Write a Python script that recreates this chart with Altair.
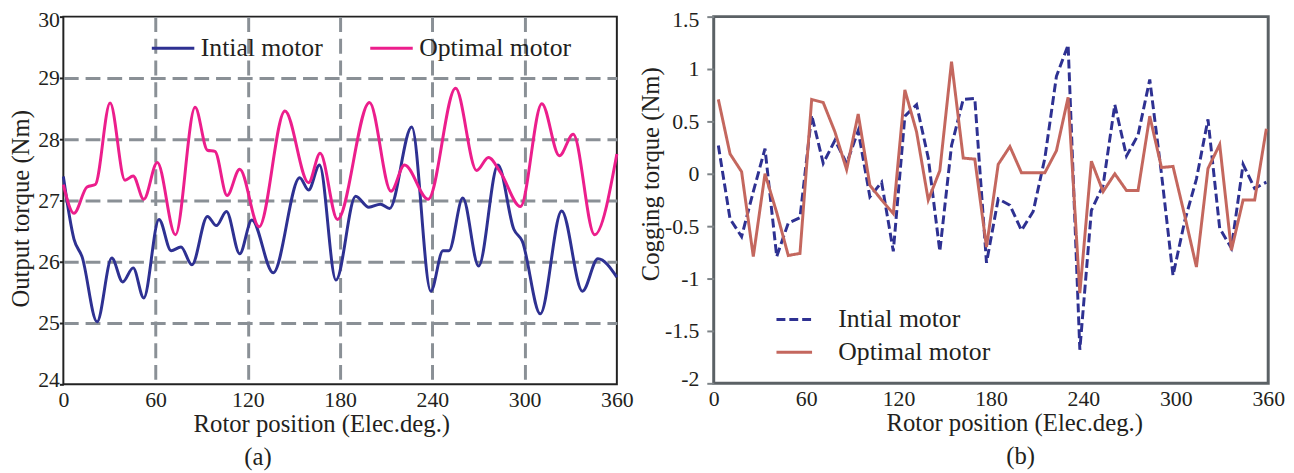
import altair as alt
import pandas as pd

FONT = "Liberation Serif"
TXT = "#231f20"

# ---- panel (a): output torque ----
deg_a_init = [0, 6.9, 12.2, 21.9, 31.5, 38.6, 45.4, 52.3, 62.2, 70.1, 76.5, 83.6, 93.7, 99.5,
              106.1, 114.7, 122.6, 136.5, 153.7, 159.5, 166.6, 177.3, 190.1, 198.7, 206.2,
              212.2, 226.6, 239.0, 246.9, 250.8, 259.8, 270.1, 282.7, 293.0, 298.4, 310.2,
              324.1, 337.6, 347.7, 360]
torque_init = [27.39, 26.37, 26.08, 25.02, 26.06, 25.67, 25.90, 25.41, 26.69, 26.18, 26.24,
               25.95, 26.74, 26.59, 26.82, 26.13, 26.68, 25.82, 27.37, 27.17, 27.58, 25.70,
               27.07, 26.89, 26.94, 26.87, 28.20, 25.52, 26.18, 26.18, 27.04, 25.93, 27.58,
               26.53, 26.34, 25.15, 26.83, 25.52, 26.05, 25.75]
deg_a_opt = [0, 6.9, 15.4, 20.8, 30.4, 40.1, 45.4, 52.3, 61.1, 72.9, 85.7, 93.7, 98.6, 106.5,
             114.7, 127.3, 144.1, 159.5, 167.0, 178.3, 199.1, 213.1, 221.9, 237.3, 255.1,
             268.8, 276.5, 284.5, 297.3, 311.2, 322.6, 331.6, 345.5, 360]
torque_opt = [27.26, 26.79, 27.22, 27.26, 28.59, 27.33, 27.40, 27.02, 27.62, 26.44, 28.52,
              27.82, 27.80, 27.08, 27.51, 26.57, 28.46, 27.29, 27.77, 26.69, 28.60, 27.15,
              27.58, 27.02, 28.83, 27.49, 27.70, 27.45, 26.90, 28.58, 27.73, 28.08, 26.44,
              27.76]

# ---- panel (b): cogging torque ----
deg_b = [3.0, 10.6, 18.1, 25.7, 33.3, 40.9, 48.4, 56.0, 63.6, 71.1, 78.7, 86.3, 93.8, 101.4,
         109.0, 116.6, 124.1, 131.7, 139.3, 146.8, 154.4, 162.0, 169.5, 177.1, 184.7, 192.3,
         199.8, 207.4, 215.0, 222.5, 230.1, 237.7, 245.2, 252.8, 260.4, 268.0, 275.5, 283.1,
         290.7, 298.2, 305.8, 313.4, 320.9, 328.5, 336.1, 343.7, 351.2, 358.8]
cog_init = [0.27, -0.43, -0.60, -0.17, 0.24, -0.79, -0.47, -0.42, 0.56, 0.10, 0.32, 0.10,
            0.41, -0.22, -0.08, -0.74, 0.55, 0.66, 0.15, -0.74, 0.27, 0.71, 0.72, -0.85,
            -0.24, -0.30, -0.54, -0.36, 0.15, 0.93, 1.23, -1.68, -0.35, -0.11, 0.66, 0.17,
            0.37, 0.90, 0.00, -0.97, -0.45, -0.05, 0.52, -0.52, -0.71, 0.09, -0.14, -0.08]
cog_opt = [0.71, 0.19, 0.02, -0.79, 0.00, -0.37, -0.78, -0.76, 0.71, 0.68, 0.40, 0.04,
           0.57, -0.11, -0.25, -0.38, 0.80, 0.40, -0.25, 0.03, 1.07, 0.15, 0.14, -0.70,
           0.09, 0.26, 0.01, 0.01, 0.01, 0.22, 0.73, -1.14, 0.12, -0.17, 0.00, -0.16,
           -0.16, 0.55, 0.06, 0.07, -0.40, -0.89, 0.05, 0.28, -0.73, -0.25, -0.25, 0.43]

series = ["Intial motor", "Optimal motor"]
x_ticks = [0, 60, 120, 180, 240, 300, 360]

dfa = pd.concat([
    pd.DataFrame({"x": deg_a_init, "y": torque_init, "s": series[0]}),
    pd.DataFrame({"x": deg_a_opt, "y": torque_opt, "s": series[1]}),
])
dfb = pd.concat([
    pd.DataFrame({"x": deg_b, "y": cog_init, "s": series[0]}),
    pd.DataFrame({"x": deg_b, "y": cog_opt, "s": series[1]}),
])

GRID = "#8a9096"

left = alt.Chart(dfa).mark_line(interpolate="monotone", strokeWidth=3).encode(
    x=alt.X("x:Q", scale=alt.Scale(domain=[0, 360], nice=False),
            axis=alt.Axis(values=x_ticks, title="Rotor position (Elec.deg.)",
                          grid=True, gridColor=GRID, gridWidth=3, gridDash=[15, 7],
                          gridOpacity={"condition": {"test": "datum.value === 0 || datum.value === 360", "value": 0}, "value": 1},
                          domain=False, ticks=False, labelFlush=False, labelPadding=5,
                          titleX=261, titlePadding=2)),
    y=alt.Y("y:Q", scale=alt.Scale(domain=[24, 30], nice=False),
            axis=alt.Axis(values=[24, 25, 26, 27, 28, 29, 30], title="Output torque (Nm)",
                          grid=True, gridColor=GRID, gridWidth=3, gridDash=[15, 7],
                          gridOpacity={"condition": {"test": "datum.value === 24 || datum.value === 30", "value": 0}, "value": 1},
                          domain=False, tickSize=4, tickColor="#222", tickWidth=2,
                          labelPadding=0, labelFlush=True, labelFlushOffset=7,
                          titlePadding=4, titleY=194)),
    color=alt.Color("s:N", scale=alt.Scale(domain=series, range=["#2e3192", "#ec1e8c"]),
                    legend=alt.Legend(orient="none", legendX=88, legendY=9, direction="horizontal",
                                      title=None, symbolType="stroke", symbolSize=1849,
                                      symbolStrokeWidth=3, labelFont=FONT, labelFontSize=26,
                                      labelColor=TXT, labelOffset=5, columnPadding=41, padding=0)),
).properties(
    width=560, height=372,
    view=alt.ViewBackground(stroke="#222", strokeWidth=2),
    title=alt.TitleParams("(a)", orient="bottom", anchor="middle", frame="group", dx=-83,
                          offset=9, font=FONT, fontSize=25, fontWeight="normal", color=TXT),
)

leg_b = alt.Legend(orient="none", legendX=62, legendY=287, direction="vertical", title=None,
                   symbolType="stroke", symbolSize=1296, symbolStrokeWidth=3,
                   labelFont=FONT, labelFontSize=26, labelColor=TXT, labelOffset=25,
                   rowPadding=-6, padding=0)

right = alt.Chart(dfb).mark_line(strokeWidth=3).encode(
    x=alt.X("x:Q", scale=alt.Scale(domain=[0, 360], nice=False),
            axis=alt.Axis(values=x_ticks, title="Rotor position (Elec.deg.)", grid=False,
                          domain=False, ticks=False, labelFlush=False, labelPadding=5,
                          titleX=304, titlePadding=2)),
    y=alt.Y("y:Q", scale=alt.Scale(domain=[-2, 1.5], nice=False),
            axis=alt.Axis(values=[-2, -1.5, -1, -0.5, 0, 0.5, 1, 1.5], title="Cogging torque (Nm)",
                          labelExpr="toString(datum.value)", grid=False, domain=False,
                          tickSize=7, tickColor="#7d8387", tickWidth=2, labelPadding=8,
                          labelFlush=True, labelFlushOffset=7, titlePadding=1, titleY=159)),
    color=alt.Color("s:N", scale=alt.Scale(domain=series, range=["#2e3192", "#c4675e"]), legend=leg_b),
    strokeDash=alt.StrokeDash("s:N", scale=alt.Scale(domain=series, range=[[9, 4], [1, 0]]), legend=leg_b),
).properties(
    width=561, height=371,
    view=alt.ViewBackground(stroke="#5b6165", strokeWidth=3),
    title=alt.TitleParams("(b)", orient="bottom", anchor="middle", frame="group", dx=30,
                          offset=9, font=FONT, fontSize=25, fontWeight="normal", color=TXT),
)

chart = alt.hconcat(left, right, spacing=2).resolve_scale(
    color="independent", strokeDash="independent"
).resolve_legend(
    color="independent", strokeDash="independent"
).properties(
    padding={"left": 0, "top": -4, "right": 0, "bottom": 0}
).configure_axis(
    labelFont=FONT, labelFontSize=22, labelColor=TXT,
    titleFont=FONT, titleFontSize=25, titleColor=TXT, titleFontWeight="normal",
).configure_view(stroke=None)

chart.save("out.html", embed_options={"renderer": "svg", "actions": False})
